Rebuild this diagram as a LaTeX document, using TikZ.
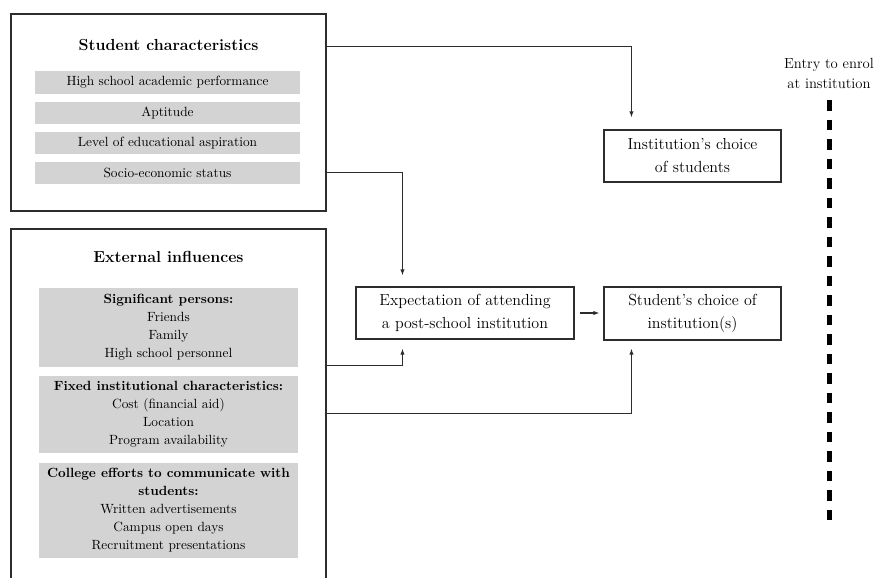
\documentclass[tikz,border=0pt]{standalone}
\usetikzlibrary{arrows.meta,calc}
\definecolor{barfill}{RGB}{211,211,211}
\definecolor{linegray}{RGB}{45,45,45}
\newcommand{\pxu}{0.75pt}
\begin{document}
\begin{tikzpicture}[x=0.75pt,y=-0.75pt,
  outerbox/.style={draw=linegray, line width=0.8pt, fill=white, inner sep=0pt},
  mainbox/.style={draw=linegray, line width=0.8pt, align=center, inner sep=0pt, font=\fontsize{12}{17.25}\selectfont},
  titletext/.style={inner sep=0pt, font=\fontsize{12}{14}\selectfont\bfseries},
  bar/.style={fill=barfill, inner sep=0pt, align=center, font=\fontsize{10}{13.5}\selectfont},
  conn/.style={draw=linegray, line width=0.8pt, -{Latex[length=4.5pt,width=3.2pt]}},
  sidelabel/.style={align=center, inner sep=0pt, font=\fontsize{11}{15}\selectfont}
]
\useasboundingbox (0,0) rectangle (875,578);
\clip (0,0) rectangle (875,578);

% Student characteristics
\node[outerbox, minimum width=315*\pxu, minimum height=197*\pxu] (sc) at (168.5,112.5) {};
\node[titletext] (sct) at (168.5,45) {Student characteristics};
\node[bar, minimum width=265*\pxu, minimum height=23*\pxu] (b1) at (167.5,82.5) {High school academic performance};
\node[bar, minimum width=265*\pxu, minimum height=22*\pxu] (b2) at (167.5,113) {Aptitude};
\node[bar, minimum width=265*\pxu, minimum height=22*\pxu] (b3) at (167.5,143) {Level of educational aspiration};
\node[bar, minimum width=265*\pxu, minimum height=22*\pxu] (b4) at (167.5,173) {Socio-economic status};

% External influences
\node[outerbox, minimum width=315*\pxu, minimum height=371*\pxu] (ei) at (168.5,414.5) {};
\node[titletext] (eit) at (168.5,257) {External influences};
\node[bar, minimum width=259*\pxu, minimum height=79*\pxu] (g1) at (168.5,327.5)
  {\textbf{Significant persons:}\\Friends\\Family\\High school personnel};
\node[bar, minimum width=259*\pxu, minimum height=77*\pxu] (g2) at (168.5,414.5)
  {\textbf{Fixed institutional characteristics:}\\Cost (financial aid)\\Location\\Program availability};
\node[bar, minimum width=259*\pxu, minimum height=95*\pxu] (g3) at (168.5,510.5)
  {\textbf{College efforts to communicate with}\\\textbf{students:}\\Written advertisements\\Campus open days\\Recruitment presentations};

% Right-hand boxes
\node[mainbox, minimum width=177*\pxu, minimum height=52*\pxu] (inst) at (692.5,156) {Institution's choice\\of students};
\node[mainbox, minimum width=218*\pxu, minimum height=52*\pxu] (exp) at (465,313) {Expectation of attending\\a post-school institution};
\node[mainbox, minimum width=177*\pxu, minimum height=53*\pxu] (stu) at (692.5,313.5) {Student's choice of\\institution(s)};

% Connectors
\draw[conn, shorten >=9pt] ($(sc.north east)+(0,33)$) -| ($(inst.north west)+(28,0)$);
\draw[conn, shorten >=8.25pt] ($(sc.north east)+(0,159)$) -| ($(exp.north west)+(47,0)$);
\draw[conn, shorten >=6.75pt] ($(ei.north east)+(0,137)$) -| ($(exp.south west)+(47,0)$);
\draw[conn, shorten >=6pt] ($(ei.north east)+(0,185)$) -| ($(stu.south west)+(28,0)$);
\draw[conn, shorten <=3.75pt, shorten >=3pt] (exp.east) -- (exp.east -| stu.west);

% Entry line
\node[sidelabel] (entry) at (829,73) {Entry to enrol\\at institution};
\coordinate (dtop) at (829,100);
\coordinate (dbot) at (829,520.5);
\draw[line width=3.75pt, dash pattern=on 7.875pt off 6.765pt] (dtop) -- (dbot);
\end{tikzpicture}
\end{document}
